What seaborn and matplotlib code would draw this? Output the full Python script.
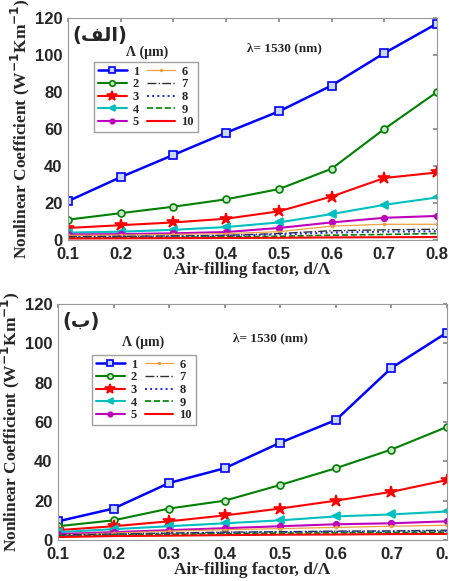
import numpy as np
import pandas as pd
import matplotlib
matplotlib.use("Agg")
import matplotlib.pyplot as plt
import seaborn as sns

sns.set_theme(style="white")
plt.rcParams['font.family'] = ['Liberation Serif', 'DejaVu Sans']

x = [0.1, 0.2, 0.3, 0.4, 0.5, 0.6, 0.7, 0.8]
labels = ["1", "2", "3", "4", "5", "6", "7", "8", "9", "10"]

top_vals = [
    [21, 34, 46, 58, 69.5, 83.5, 101, 117],
    [11, 14.5, 18, 22, 27.5, 38.5, 60, 80],
    [6.5, 8, 9.5, 11.5, 15.5, 23.5, 33.5, 36.5],
    [4, 4.5, 5.5, 7, 9.5, 14, 19, 23],
    [3, 3.2, 3.6, 4.3, 6.5, 9.5, 12, 13],
    [2.5, 2.7, 3, 3.5, 4.5, 7.5, 8.5, 8.5],
    [1.8, 2, 2.2, 2.5, 3.5, 5, 5.5, 5.8],
    [1.5, 1.7, 2, 2.3, 3, 4, 4.5, 4.7],
    [1.2, 1.3, 1.5, 1.7, 2, 2.6, 3, 3.5],
    [0.8, 0.9, 1, 1.1, 1.2, 1.4, 1.5, 1.6],
]
bot_vals = [
    [9.5, 16, 29, 36.5, 49.5, 61, 87.5, 105.5],
    [7, 10, 16, 20, 28, 36.5, 46, 57.5],
    [5, 7, 9.5, 12.5, 16, 20, 24.5, 30.5],
    [4, 5.5, 7, 8.5, 10, 12, 13, 14.5],
    [3, 4, 5, 6, 7, 8, 8.5, 9.5],
    [2.5, 3.5, 4.5, 5.2, 5.8, 6.4, 7, 7.5],
    [2.5, 3, 3.5, 4, 4.2, 4.5, 4.6, 5],
    [2.3, 2.8, 3.3, 3.7, 4, 4.2, 4.3, 4.5],
    [2, 2.5, 2.9, 3.2, 3.5, 3.6, 3.8, 4],
    [1.5, 2, 2.2, 2.5, 2.7, 2.8, 3, 3.1],
]

styles = [
    dict(color="#0000ff", marker="s", ls="-", lw=1.8, ms=6, mfc="#c8d8ff"),
    dict(color="#008000", marker="o", ls="-", lw=1.5, ms=5, mfc="#c8e8c8"),
    dict(color="#ff0000", marker="*", ls="-", lw=1.5, ms=9, mfc="#ff0000"),
    dict(color="#00bfbf", marker="<", ls="-", lw=1.5, ms=6, mfc="#00bfbf"),
    dict(color="#bf00bf", marker="o", ls="-", lw=1.5, ms=4, mfc="#bf00bf"),
    dict(color="#f0a040", marker=".", ls="-", lw=0.9, ms=3, mfc="#f0a040"),
    dict(color="#303030", marker=None, ls="-.", lw=1.0, ms=0, mfc="none"),
    dict(color="#2020ff", marker=None, ls=":", lw=1.4, ms=0, mfc="none"),
    dict(color="#008000", marker=None, ls="--", lw=1.2, ms=0, mfc="none"),
    dict(color="#ff0000", marker=None, ls="-", lw=1.5, ms=0, mfc="none"),
]

W, H = 449, 581
fig = plt.figure(figsize=(W / 100, H / 100), dpi=100)

panels = [
    dict(vals=top_vals, rect=(68, 18, 437, 240), tag="(\ufed2\ufedf\u0627)",
         tag_xy=(72, 35), lam_xy=(147, 52), wl_xy=(247, 48), leg_xy=(94, 62)),
    dict(vals=bot_vals, rect=(58, 304, 447, 540), tag="(\u0628)",
         tag_xy=(62, 322), lam_xy=(143, 342), wl_xy=(233, 338), leg_xy=(92, 355)),
]

sans_bold = dict(family=['Liberation Sans', 'DejaVu Sans'], weight='bold')

for p in panels:
    l, t, r, b = p["rect"]
    ax = fig.add_axes([l / W, 1 - b / H, (r - l) / W, (b - t) / H])
    for lab, yv, st in zip(labels, p["vals"], styles):
        df = pd.DataFrame({"x": x, "y": yv})
        kw = dict(color=st["color"], linestyle=st["ls"], linewidth=st["lw"])
        if st["marker"]:
            kw.update(marker=st["marker"], markersize=st["ms"],
                      markerfacecolor=st["mfc"], markeredgecolor=st["color"],
                      markeredgewidth=1.2)
        sns.lineplot(data=df, x="x", y="y", ax=ax, label=lab, **kw)
    ax.set_xlim(0.1, 0.8)
    ax.set_ylim(0, 120)
    ax.set_xticks(x)
    ax.set_xticklabels([f"{v:.1f}" for v in x], fontdict=dict(size=12, **sans_bold))
    ax.set_yticks(range(0, 121, 20))
    ax.set_yticklabels([str(v) for v in range(0, 121, 20)], fontdict=dict(size=12, **sans_bold))
    ax.tick_params(direction="in", length=3, top=True, right=True, color="#888888")
    ax.tick_params(axis="x", pad=5)
    ax.tick_params(axis="y", pad=4)
    for s in ax.spines.values():
        s.set_color("#999999")
        s.set_linewidth(0.8)
    ax.set_xlabel("Air-filling factor, d/\u039b", fontsize=12.5, fontweight="bold",
                  family="Liberation Serif", labelpad=0)
    ax.set_ylabel("Nonlinear Coefficient (W$^{\\mathbf{-1}}$Km$^{\\mathbf{-1}}$)", fontsize=12.5,
                  fontweight="bold", family="Liberation Serif", labelpad=2)
    tx, ty = p["tag_xy"]
    fig.text(tx / W, 1 - ty / H, p["tag"], family=['DejaVu Sans'], fontsize=14,
             fontweight="bold", va="center", ha="left")
    lx, ly = p["lam_xy"]
    fig.text(lx / W, 1 - ly / H, "\u039b (\u03bcm)", fontsize=10, fontweight="bold",
             family="Liberation Serif", va="center", ha="center")
    wx, wy = p["wl_xy"]
    fig.text(wx / W, 1 - wy / H, "\u03bb= 1530 (nm)", fontsize=9.5, fontweight="bold",
             family="Liberation Serif", va="center", ha="left")
    gx, gy = p["leg_xy"]
    leg = ax.legend(loc="upper left", bbox_to_anchor=(gx / W, 1 - gy / H),
                    bbox_transform=fig.transFigure, ncol=2, markerscale=0.8,
                    frameon=True, fancybox=False, edgecolor="#888888",
                    handlelength=2.3, handletextpad=0.5, columnspacing=0.6,
                    labelspacing=0.05, borderpad=0.3, borderaxespad=0,
                    prop=dict(family="Liberation Serif", weight="bold", size=9))
    leg.get_frame().set_linewidth(1.0)

fig.savefig("out.png", dpi=100)
